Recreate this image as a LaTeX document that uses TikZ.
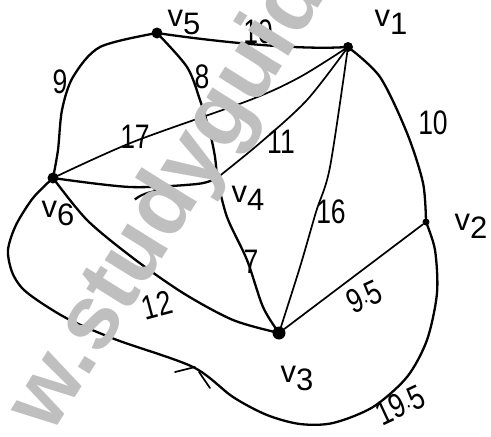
\documentclass[tikz,border=0pt]{standalone}
\usepackage{fontspec}
\newfontfamily\wmfont{Liberation Sans}
\newfontfamily\hfont{Liberation Sans}
\newcommand\vlab[1]{v\raisebox{-8pt}{#1}}
\newcommand\hw[1]{\scalebox{0.78}[1]{#1}}
\begin{document}
\begin{tikzpicture}[x=1pt,y=-1pt,
  edge/.style={line width=2.3pt, line cap=round, line join=round},
  thinedge/.style={line width=1.7pt, line cap=round, line join=round},
  vdot/.style={circle, fill=black, inner sep=0pt, minimum size=#1},
  vname/.style={font=\hfont\fontsize{31}{31}\selectfont, inner sep=0pt},
  wlab/.style={font=\hfont\fontsize{34}{34}\selectfont, inner sep=0pt},
  wm/.style={font=\wmfont\bfseries\fontsize{90}{90}\selectfont, text=black!25, rotate=58, anchor=base west, inner sep=0pt, outer sep=0pt}]
\useasboundingbox (0,0) rectangle (491,437);
\fill[white] (0,0) rectangle (491,437);

% vertices
\node[vdot=11pt] (v5) at (157,33) {};
\node[vdot=10pt] (v1) at (348,47) {};
\node[vdot=7pt]  (v2) at (426,222) {};
\node[vdot=13pt] (v3) at (279,333) {};
\node[vdot=4pt]  (v4) at (217,178) {};
\node[vdot=11pt] (v6) at (53,178) {};

% edges
\draw[edge] (v5) .. controls (205,40) and (290,50) .. (v1);
\draw[edge] plot[smooth] coordinates {(v5) (100,47) (73,77) (62,110) (58,150) (v6)};
\draw[edge] plot[smooth] coordinates {(v5) (187,67) (200,100) (210,133) (215,157) (v4)};
\draw[thinedge] plot[smooth] coordinates {(v6) (133,142) (250,100) (300,77) (v1)};
\draw[edge] plot[smooth] coordinates {(v6) (130,187) (197,184) (v4)};
\draw[thinedge] plot[smooth] coordinates {(v4) (260,143) (307,100) (v1)};
\draw[thinedge] plot[smooth] coordinates {(v1) (330,167) (316,212) (300,267) (v3)};
\draw[edge] plot[smooth] coordinates {(v1) (380,77) (407,133) (423,183) (v2)};
\draw[edge] plot[smooth] coordinates {(v4) (227,217) (247,260) (263,307) (v3)};
\draw[edge] plot[smooth] coordinates {(v6) (87,220) (133,258) (183,293) (233,320) (v3)};
\draw[thinedge] (v3) -- (v2);
\draw[edge] plot[smooth] coordinates {(v6) (33,198) (16,225) (8,250) (12,272) (22,288) (40,302) (70,320) (117,340) (193,367) (233,397) (267,415) (300,424) (333,423) (373,407) (407,377) (427,340) (437,293) (435,250) (v2)};
\coordinate (mk) at (195,367);
\draw[thinedge] (mk) -- ++(-20,5);
\draw[thinedge] (mk) ++(4,5) -- ++(11,16);

% vertex names
\node[vname] at (184,22) {\vlab{5}};
\node[vname] at (391,22) {\vlab{1}};
\node[vname] at (471,226) {\vlab{2}};
\node[vname] at (297,378) {\vlab{3}};
\node[vname] at (248,198) {\vlab{4}};
\node[vname] at (58,213) {\vlab{6}};

% weights
\node[wlab] at (258,32) {\hw{10}};
\node[wlab] at (60,82) {\hw{9}};
\node[wlab] at (202,77) {\hw{8}};
\node[wlab] at (135,137) {\hw{17}};
\node[wlab, rotate=-50] at (145,194) {\hw{7}};
\node[wlab] at (281,142) {\hw{11}};
\node[wlab] at (433,123) {\hw{10}};
\node[wlab] at (331,212) {\hw{16}};
\node[wlab] at (251,262) {\hw{7}};
\node[wlab, rotate=15] at (157,305) {\hw{12}};
\node[wlab, rotate=25] at (364,297) {\hw{9$\cdot$5}};
\node[wlab, rotate=25] at (400,405) {\hw{19$\cdot$5}};

% watermark
\begin{scope}
\clip (0,0) rectangle (491,437);
\node[wm] at (51.5,435.7) {w.studyguide.pk};
\end{scope}
\end{tikzpicture}
\end{document}
